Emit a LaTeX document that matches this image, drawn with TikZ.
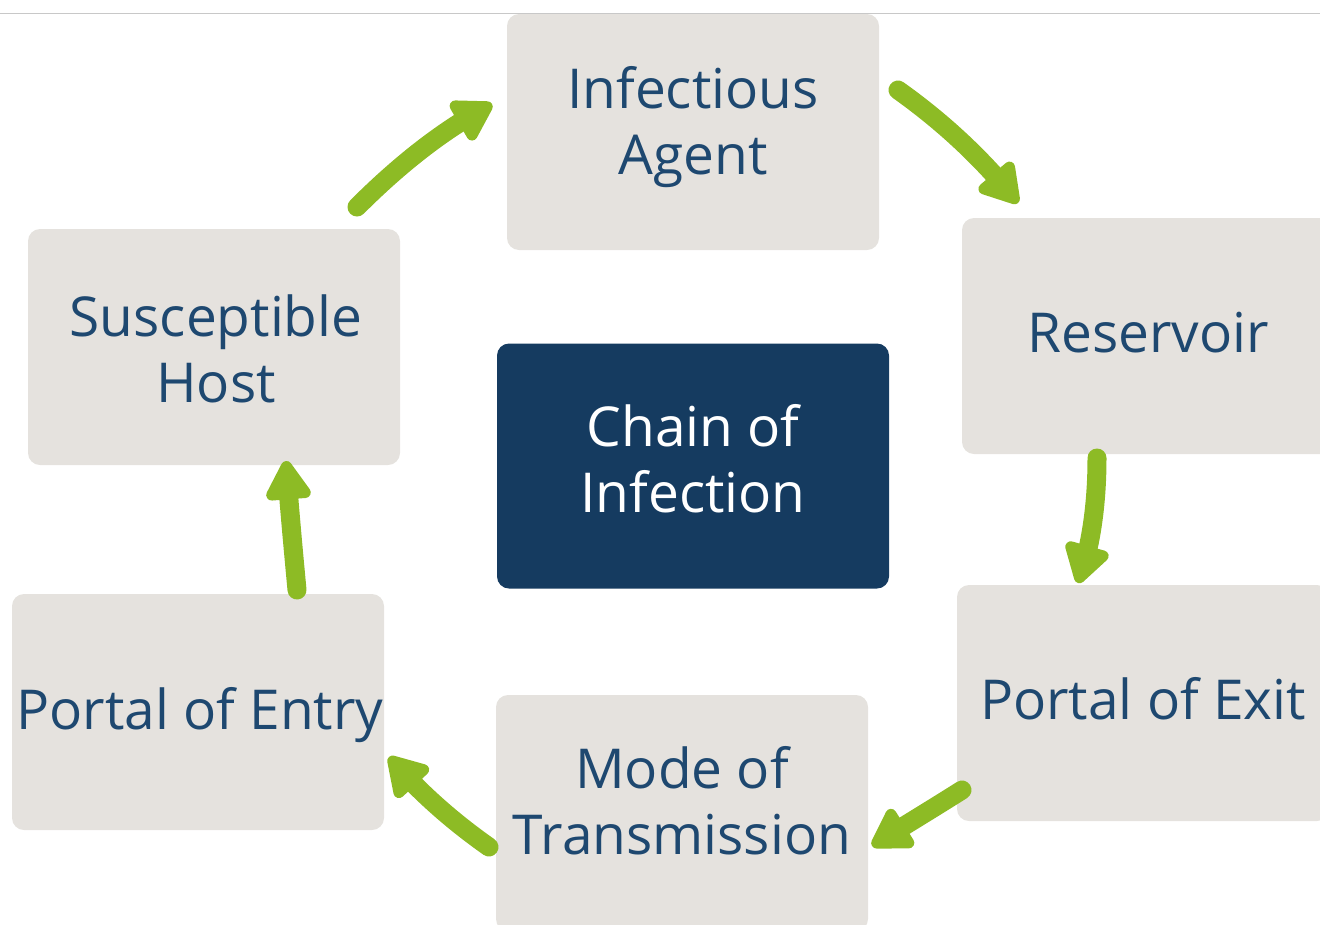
\documentclass[tikz,border=0pt]{standalone}
\usepackage{fontspec}
\setmainfont{Open Sans}
\usetikzlibrary{arrows.meta,bending}
\definecolor{boxgray}{HTML}{E5E2DE}
\definecolor{navy}{HTML}{153B60}
\definecolor{txtblue}{HTML}{1E4870}
\definecolor{leaf}{HTML}{8DBB25}
\definecolor{rulegray}{HTML}{C8C8C8}
\tikzset{
  stage/.style={fill=boxgray, rounded corners=12pt, minimum width=372pt, minimum height=236pt,
    inner sep=0pt},
  core/.style={fill=navy, rounded corners=12pt, minimum width=392pt, minimum height=245pt,
    inner sep=0pt},
  lbl/.style={inner sep=0pt, align=center, text=txtblue, font=\fontsize{55}{66}\selectfont},
  corelbl/.style={lbl, text=white},
  flow/.style={draw=leaf, line width=19pt, line cap=round,
    -{Triangle[width=50pt,length=44pt,round]}}
}
\begin{document}
\begin{tikzpicture}[x=1pt,y=-1pt]
\useasboundingbox (0,0) rectangle (1320,924);
\draw[rulegray, line width=1pt] (0,13) -- (1320,13);
\node[stage] (agent) at (693,132) {};
\node[stage] (res) at (1148,336) {};
\node[stage] (exit) at (1143,703) {};
\node[stage] (mode) at (682,813) {};
\node[stage] (entry) at (198,712) {};
\node[stage] (host) at (214,347) {};
\node[core] (chain) at (693,466) {};
\node[lbl] (agentT) at ([yshift=5pt]agent.center) {Infectious\\Agent};
\node[lbl] (resT) at ([yshift=3pt]res.center) {Reservoir};
\node[lbl] (exitT) at ([yshift=4pt]exit.center) {Portal of Exit};
\node[lbl] (modeT) at ([yshift=12pt]mode.center) {Mode of\\Transmission};
\node[lbl] (entryT) at ([yshift=-3pt,xshift=2pt]entry.center) {Portal of Entry};
\node[lbl] (hostT) at ([yshift=-2pt,xshift=2pt]host.center) {Susceptible\\Host};
\node[corelbl] (chainT) at ([yshift=7pt]chain.center) {Chain of\\Infection};
% arrow end points
\coordinate (a1s) at (357,207); \coordinate (a1e) at (492,104);
\coordinate (a2s) at (898,90);  \coordinate (a2e) at (1018,203);
\coordinate (a3s) at (1097,458); \coordinate (a3e) at (1078,583);
\coordinate (a4s) at (962,790); \coordinate (a4e) at (872,846);
\coordinate (a5s) at (489,847); \coordinate (a5e) at (389,757);
\coordinate (a6s) at (297,590); \coordinate (a6e) at (286,461);
\draw[flow] (a1s) .. controls (397,167) and (442,130) .. (a1e);
\draw[flow] (a2s) .. controls (943,122) and (983,159) .. (a2e);
\draw[flow] (a3s) .. controls (1097,500) and (1092,545) .. (a3e);
\draw[flow] (a4s) .. controls (932,809) and (902,827) .. (a4e);
\draw[flow] (a5s) .. controls (452,821) and (418,791) .. (a5e);
\draw[flow] (a6s) .. controls (293,547) and (289,504) .. (a6e);
\end{tikzpicture}
\end{document}
